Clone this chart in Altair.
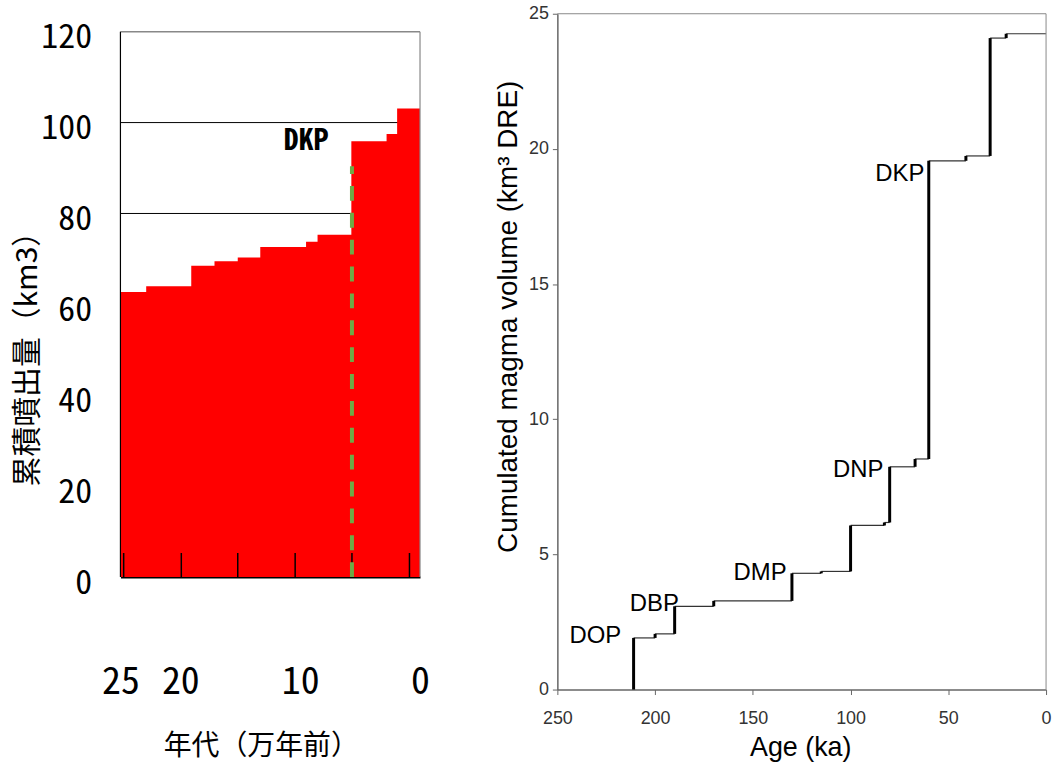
import altair as alt
import pandas as pd

# ---------------- data: left panel (累積噴出量) ----------------
left_start = [25, 22.85, 19.09, 17.15, 15.21, 13.33, 9.51, 8.55, 5.73, 2.79, 1.91]
left_volume = [62.7, 64.0, 68.5, 69.5, 70.3, 72.6, 73.8, 75.3, 95.9, 97.5, 103.1]
left_grid = [20, 40, 60, 80, 100]
left_tick_age = [24.73, 19.92, 15.21, 10.42, 5.68, 0.88]
left_tick_top = 5.3
left_x_labels = [25, 20, 10, 0]
left_y_labels = [0, 20, 40, 60, 80, 100, 120]
left_age_range = [25, 0]
left_vol_max = 120
dkp_line_age = [5.68]
dkp_line_top = [90.4]
left_text = ["DKP"]
left_text_age = [9.5]
left_text_vol = [95.9]

# ---------------- data: right panel (cumulated magma volume) ----------------
right_age = [211, 200, 190, 170, 130, 115, 100, 82.7, 80, 67, 60, 41, 28.6, 20.4]
right_cum = [1.91, 2.06, 3.08, 3.28, 4.30, 4.37, 6.07, 6.18, 8.24, 8.53, 19.56, 19.74, 24.10, 24.26]
right_labels = ["DOP", "DBP", "DMP", "DNP", "DKP"]
right_label_age = [217.3, 187.8, 132.7, 83.2, 62.2]
right_label_cum = [1.99, 3.16, 4.30, 8.12, 19.08]
right_x_ticks = [250, 200, 150, 100, 50, 0]
right_y_ticks = [0, 5, 10, 15, 20, 25]

CJK = "Noto Sans CJK JP"
MONO = "Noto Sans Mono CJK JP, DejaVu Sans Mono, monospace"
SANS = "Liberation Sans, Arial, sans-serif"

# ---------------- left panel ----------------
# plot area is taller than the 0-120 frame so that its frame sits lower than the right panel's
LEFT_H = 566
LEFT_FRAME_H = 548
xsL = alt.Scale(domain=[0, 25], reverse=True, nice=False)
ysL = alt.Scale(domain=[0, left_vol_max * LEFT_H / LEFT_FRAME_H], nice=False)

area_df = pd.DataFrame({"age": left_start + [0], "vol": left_volume + [left_volume[-1]]})
grid_df = pd.DataFrame({"g": left_grid})
tick_df = pd.DataFrame({"age": left_tick_age, "base": [0] * len(left_tick_age),
                        "top": [left_tick_top] * len(left_tick_age)})
dash_df = pd.DataFrame({"age": dkp_line_age, "base": [0], "top": dkp_line_top})
ltext_df = pd.DataFrame({"age": left_text_age, "vol": left_text_vol, "t": left_text})
frame_h_df = pd.DataFrame({"a0": [left_age_range[0]], "a1": [left_age_range[1]], "v": [left_vol_max]})
frame_v_df = pd.DataFrame({"a": left_age_range, "v0": [0, 0], "v1": [left_vol_max, left_vol_max],
                           "c": ["left", "right"]})

xaxL = alt.Axis(
    values=left_x_labels, ticks=False, grid=False, domainColor="black", domainWidth=2,
    labelFont=MONO, labelFontSize=38, labelColor="black", labelPadding=106,
    labelBaseline="middle", labelFlush=False,
    title="年代（万年前）", titleFont=CJK, titleFontSize=28, titleFontWeight="normal",
    titleColor="black", titleX=141, titleY=170, titleBaseline="middle")
yaxL = alt.Axis(
    values=left_y_labels, ticks=False, grid=False, domain=False,
    labelFont=MONO, labelFontSize=34, labelColor="black", labelPadding=29,
    labelOffset=6, labelFlush=False,
    title="累積噴出量（km3）", titleFont=CJK, titleFontSize=30, titleFontWeight="normal",
    titleColor="black", titleX=-93, titleY=321 + (LEFT_H - LEFT_FRAME_H), titleBaseline="middle")

grid = alt.Chart(grid_df).mark_rule(color="black", strokeWidth=1).encode(
    y=alt.Y("g:Q", scale=ysL, axis=yaxL)
)

area = alt.Chart(area_df).mark_area(color="#ff0000", interpolate="step-after").encode(
    x=alt.X("age:Q", scale=xsL, axis=xaxL),
    y=alt.Y("vol:Q", scale=ysL, stack=None),
)

frame_h = alt.Chart(frame_h_df).mark_rule(color="#888888", strokeWidth=1.5).encode(
    x=alt.X("a0:Q", scale=xsL), x2="a1:Q", y=alt.Y("v:Q", scale=ysL)
)
frame_v = alt.Chart(frame_v_df).mark_rule(strokeWidth=1.2).encode(
    x=alt.X("a:Q", scale=xsL), y=alt.Y("v0:Q", scale=ysL), y2="v1:Q",
    color=alt.Color("c:N", scale=alt.Scale(domain=["left", "right"], range=["#000000", "#888888"]),
                    legend=None),
)

ticks = alt.Chart(tick_df).mark_rule(color="black", strokeWidth=1.5).encode(
    x=alt.X("age:Q", scale=xsL),
    y=alt.Y("base:Q", scale=ysL),
    y2="top:Q",
)

dash = alt.Chart(dash_df).mark_rule(color="#6eaa46", strokeWidth=4, strokeDash=[15, 12]).encode(
    x=alt.X("age:Q", scale=xsL),
    y=alt.Y("base:Q", scale=ysL),
    y2="top:Q",
)

ltext = alt.Chart(ltext_df).mark_text(font=MONO, fontSize=30, fontWeight="bold", color="black").encode(
    x=alt.X("age:Q", scale=xsL),
    y=alt.Y("vol:Q", scale=ysL),
    text="t:N",
)

left = alt.layer(grid, area, frame_h, frame_v, ticks, dash, ltext).properties(
    width=301, height=LEFT_H
)

# ---------------- right panel ----------------
xsR = alt.Scale(domain=[0, 250], reverse=True, nice=False)
ysR = alt.Scale(domain=[0, 25], nice=False)

horiz_df = pd.DataFrame({"a0": right_age, "a1": right_age[1:] + [0], "cum": right_cum})
vert_df = pd.DataFrame({"age": right_age, "lo": [0] + right_cum[:-1], "hi": right_cum})
rtext_df = pd.DataFrame({"age": right_label_age, "cum": right_label_cum, "t": right_labels})
rframe_h_df = pd.DataFrame({"a0": [right_x_ticks[0]], "a1": [right_x_ticks[-1]], "v": [right_y_ticks[-1]]})
rframe_v_df = pd.DataFrame({"a": [right_x_ticks[-1]], "v0": [right_y_ticks[0]], "v1": [right_y_ticks[-1]]})

xaxR = alt.Axis(
    values=right_x_ticks, grid=False, tickSize=5, tickColor="#666666", domainColor="#666666",
    domainWidth=1.5, labelColor="#333333", labelFont=SANS, labelFontSize=18, labelPadding=15,
    labelFlush=False,
    title="Age (ka)", titleFont=SANS, titleFontSize=27, titleFontWeight="normal",
    titleColor="black", titleX=244, titleY=58, titleBaseline="middle")
yaxR = alt.Axis(
    values=right_y_ticks, grid=False, tickSize=5, tickColor="#666666", domainColor="#666666",
    domainWidth=1.5, labelColor="#333333", labelFont=SANS, labelFontSize=18, labelPadding=4,
    labelFlush=False,
    title="Cumulated magma volume (km³ DRE)", titleFont=SANS, titleFontSize=28,
    titleFontWeight="normal", titleColor="black", titleX=-49, titleY=304,
    titleBaseline="middle")

horiz = alt.Chart(horiz_df).mark_rule(color="#333333", strokeWidth=1.2).encode(
    x=alt.X("a0:Q", scale=xsR, axis=xaxR),
    x2="a1:Q",
    y=alt.Y("cum:Q", scale=ysR, axis=yaxR),
)

vert = alt.Chart(vert_df).mark_rule(color="black", strokeWidth=3).encode(
    x=alt.X("age:Q", scale=xsR),
    y=alt.Y("lo:Q", scale=ysR),
    y2="hi:Q",
)

rframe_h = alt.Chart(rframe_h_df).mark_rule(color="#888888", strokeWidth=1).encode(
    x=alt.X("a0:Q", scale=xsR), x2="a1:Q", y=alt.Y("v:Q", scale=ysR)
)
rframe_v = alt.Chart(rframe_v_df).mark_rule(color="#888888", strokeWidth=1).encode(
    x=alt.X("a:Q", scale=xsR), y=alt.Y("v0:Q", scale=ysR), y2="v1:Q"
)

rtext = alt.Chart(rtext_df).mark_text(font=SANS, fontSize=24, align="right", baseline="middle",
                                      color="black").encode(
    x=alt.X("age:Q", scale=xsR),
    y=alt.Y("cum:Q", scale=ysR),
    text="t:N",
)

right = alt.layer(horiz, vert, rframe_h, rframe_v, rtext).properties(width=491, height=679)

chart = alt.hconcat(left, right, spacing=65).properties(
    padding={"left": 13, "top": 3, "right": 5, "bottom": 5}
).configure_view(stroke=None)

chart.save("out.html", embed_options={"renderer": "svg", "actions": False})
